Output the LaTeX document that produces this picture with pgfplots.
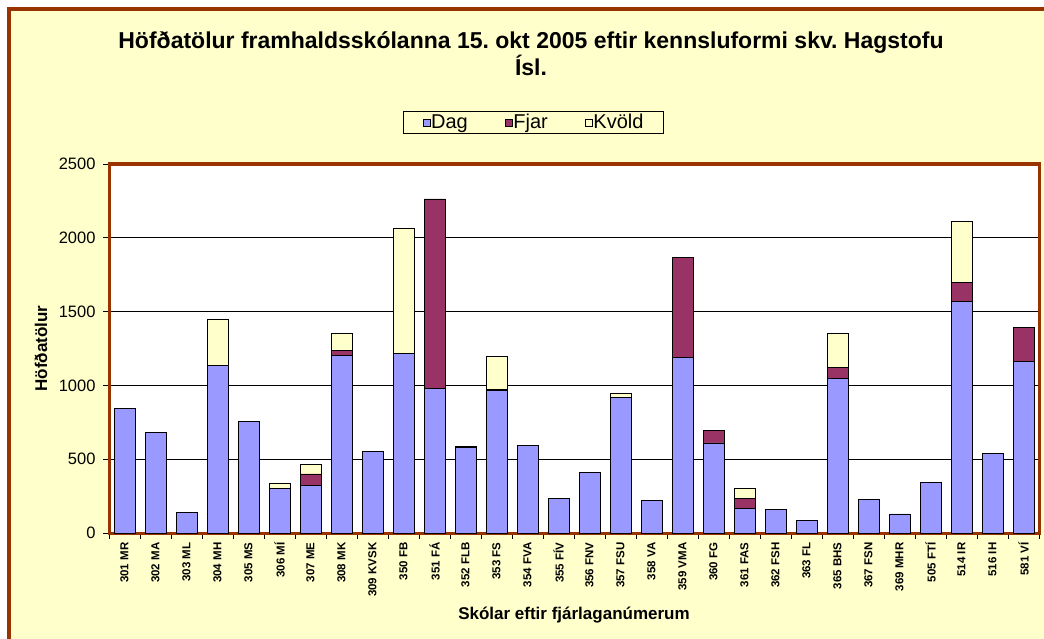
\documentclass[border=0pt]{standalone}
\usepackage{fontspec}
\setmainfont{Liberation Sans}
\usepackage{pgfplots}
\usepackage{pgfplotstable}
\pgfplotsset{compat=1.18}
\frenchspacing
\definecolor{chartbrown}{HTML}{993300}
\definecolor{chartbg}{HTML}{FFFFCC}
\definecolor{dag}{HTML}{9999FF}
\definecolor{fjar}{HTML}{993366}
\definecolor{kvold}{HTML}{FFFFCC}

\pgfplotstableread{
idx Dag Fjar Kvold
0 845 0 0
1 680 0 0
2 142 0 0
3 1137 0 312
4 757 0 0
5 301 0 38
6 321 79 63
7 1200 39 113
8 552 0 0
9 1216 0 845
10 981 1282 0
11 581 5 0
12 967 7 222
13 594 0 0
14 233 0 0
15 411 0 0
16 920 0 25
17 219 0 0
18 1191 674 0
19 610 82 0
20 167 68 68
21 158 0 0
22 86 0 0
23 1044 79 229
24 224 0 0
25 129 0 0
26 341 0 0
27 1569 126 418
28 538 0 0
29 1160 230 0
}\datatable

\begin{document}
\begin{tikzpicture}
\path[use as bounding box] (0,0) rectangle (1044pt,638pt);
\fill[white] (0,0) rectangle (1044pt,638pt);
\begin{scope}
\clip (0,0) rectangle (1044pt,638pt);
\draw[chartbrown, line width=4pt, fill=chartbg] (9pt,629pt) rectangle (1100pt,-60pt);
\end{scope}
\node[anchor=base, font=\fontsize{23}{26}\selectfont\bfseries] at (531pt,589pt) {Höfðatölur framhaldsskólanna 15. okt 2005 eftir kennsluformi skv. Hagstofu};
\node[anchor=base, font=\fontsize{23}{26}\selectfont\bfseries] at (531pt,562pt) {Ísl.};
\begin{axis}[
  at={(109pt,105pt)}, anchor=south west,
  scale only axis, width=930pt, height=369pt,
  axis background/.style={fill=white},
  ybar stacked, bar width=21pt,
  xmin=-0.5, xmax=29.5, ymin=0, ymax=2500,
  ytick={0,500,...,2500},
  ymajorgrids, grid style={black, line width=0.8pt},
  axis line style={chartbrown, line width=3pt},
  tick align=outside,
  xtick pos=left, ytick pos=left,
  major tick length=6pt, minor tick length=6pt,
  ytick style={black, line width=0.8pt},
  major x tick style={draw=none},
  minor x tick style={black, line width=0.8pt},
  xtick={0,...,29},
  minor xtick={-0.5,0.5,...,29.5},
  xticklabels={301 MR,302 MA,303 ML,304 MH,305 MS,306 MÍ,307 ME,308 MK,309 KVSK,350 FB,351 FÁ,352 FLB,353 FS,354 FVA,355 FÍV,356 FNV,357 FSU,358 VA,359 VMA,360 FG,361 FAS,362 FSH,363 FL,365 BHS,367 FSN,369 MHR,505 FTÍ,514 IR,516 IH,581 VÍ},
  xticklabel style={rotate=90, anchor=east, font=\fontsize{11.5}{12}\selectfont\bfseries},
  yticklabel style={font=\fontsize{16.5}{18}\selectfont, xshift=-4pt},
  /pgf/number format/assume math mode=true,
  /pgf/number format/1000 sep={},
  ylabel={Höfðatölur},
  ylabel style={at={(axis description cs:-0.0731,0.5)}, anchor=center, font=\fontsize{17}{19}\selectfont\bfseries},
  xlabel={Skólar eftir fjárlaganúmerum},
  xlabel style={at={(axis description cs:0.5,-0.2222)}, anchor=center, font=\fontsize{17}{19}\selectfont\bfseries},
  legend columns=3,
  legend style={at={(axis description cs:0.4565,1.1125)}, anchor=center,
    draw=black, line width=0.8pt, fill=chartbg,
    font=\fontsize{20}{22}\selectfont,
    inner xsep=19pt, inner ysep=2pt,
    nodes={inner xsep=1pt, inner ysep=1pt},
    /tikz/every even column/.append style={column sep=36pt}},
  legend image code/.code={\draw[#1, draw=black, line width=0.6pt] (0pt,-3.5pt) rectangle (7pt,3.5pt);},
]
\addplot[fill=dag, draw=black, line width=0.9pt] table[x=idx, y=Dag] {\datatable};
\addplot[fill=fjar, draw=black, line width=0.9pt] table[x=idx, y=Fjar] {\datatable};
\addplot[fill=kvold, draw=black, line width=0.9pt] table[x=idx, y=Kvold] {\datatable};
\legend{Dag,Fjar,Kvöld}
\end{axis}
\end{tikzpicture}
\end{document}
